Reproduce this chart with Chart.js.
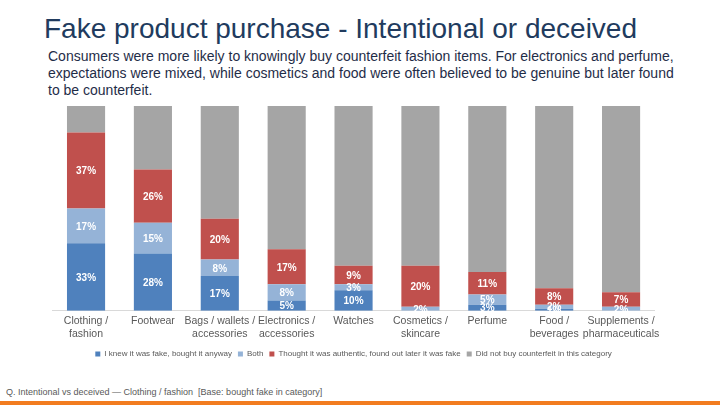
<!DOCTYPE html>
<html>
<head>
<meta charset="utf-8">
<script src="https://cdn.jsdelivr.net/npm/chart.js@4"></script>
<style>
    html, body { margin: 0; padding: 0; background: #fff; }
    body { width: 720px; height: 405px; position: relative; overflow: hidden; font-family: 'Liberation Sans', Arial, sans-serif; }
    .title { position: absolute; left: 44px; top: 15px; font-size: 28px; line-height: 28px; color: #213B5E; white-space: nowrap; }
    .subtitle { position: absolute; left: 48px; top: 48px; font-size: 14px; line-height: 17px; color: #1F2D48; white-space: nowrap; }
    .chart-box { position: absolute; left: 0; top: 100px; width: 720px; height: 275px; }
    .footnote { position: absolute; left: 6px; top: 387px; font-size: 9px; line-height: 10px; color: #595959; white-space: pre; }
    .bottom-bar { position: absolute; left: 0; top: 401px; width: 720px; height: 4px; background: #F27C1F; }
</style>
</head>
<body>
<div class="title">Fake product purchase - Intentional or deceived</div>
<div class="subtitle">Consumers were more likely to knowingly buy counterfeit fashion items. For electronics and perfume,<br>expectations were mixed, while cosmetics and food were often believed to be genuine but later found<br>to be counterfeit.</div>
<div class="chart-box"><canvas id="fakeChart"></canvas></div>
<div class="footnote">Q. Intentional vs deceived — Clothing / fashion  [Base: bought fake in category]</div>
<div class="bottom-bar"></div>

<script>
// 类别
const categories = [
    ['Clothing /', 'fashion'],
    ['Footwear'],
    ['Bags / wallets /', 'accessories'],
    ['Electronics /', 'accessories'],
    ['Watches'],
    ['Cosmetics /', 'skincare'],
    ['Perfume'],
    ['Food /', 'beverages'],
    ['Supplements /', 'pharmaceuticals']
];

// 各系列数值 (%)
const knewFake    = [33, 28, 17, 5, 10, 0, 3, 1, 0];
const both        = [17, 15, 8, 8, 3, 2, 5, 2, 2];
const deceived    = [37, 26, 20, 17, 9, 20, 11, 8, 7];
const didNotBuy   = [13, 31, 55, 70, 78, 78, 81, 89, 91];

const seriesNames = [
    'I knew it was fake, bought it anyway',
    'Both',
    'Thought it was authentic, found out later it was fake',
    'Did not buy counterfeit in this category'
];
const seriesColors = ['#4F81BD', '#95B3D7', '#C0504D', '#A5A5A5'];

// 柱内百分比标签
const barLabels = {
    id: 'barLabels',
    afterDatasetsDraw(chart) {
        const ctx = chart.ctx;
        ctx.save();
        ctx.font = 'bold 10px "Liberation Sans", Arial, sans-serif';
        ctx.fillStyle = '#ffffff';
        ctx.textAlign = 'center';
        ctx.textBaseline = 'middle';
        chart.data.datasets.forEach((ds, i) => {
            if (ds.noLabel) return;
            chart.getDatasetMeta(i).data.forEach((bar, j) => {
                const v = ds.data[j];
                if (!v) return;
                ctx.fillText(v + '%', bar.x, (bar.y + bar.base) / 2 + 1);
            });
        });
        ctx.restore();
    }
};

const datasets = [knewFake, both, deceived, didNotBuy].map((data, i) => ({
    label: seriesNames[i],
    data: data,
    backgroundColor: seriesColors[i],
    borderWidth: 0,
    categoryPercentage: 1,
    barPercentage: 0.57,
    noLabel: i === 3
}));

new Chart(document.getElementById('fakeChart'), {
    type: 'bar',
    data: { labels: categories, datasets: datasets },
    options: {
        responsive: true,
        maintainAspectRatio: false,
        animation: false,
        layout: { padding: { left: 52.6, right: 65.5, top: 6, bottom: 7 } },
        plugins: {
            legend: {
                position: 'bottom',
                labels: {
                    boxWidth: 5,
                    boxHeight: 5,
                    padding: 6,
                    color: '#595959',
                    font: { size: 8, family: '"Liberation Sans", Arial, sans-serif' }
                }
            },
            tooltip: { enabled: false }
        },
        scales: {
            x: {
                stacked: true,
                grid: { display: false, drawTicks: false },
                border: { display: true, color: '#D9D9D9', width: 1 },
                ticks: {
                    color: '#595959',
                    padding: 4,
                    maxRotation: 0,
                    autoSkip: false,
                    font: { size: 10.5, family: '"Liberation Sans", Arial, sans-serif' }
                }
            },
            y: {
                stacked: true,
                display: false,
                min: 0,
                max: 100
            }
        }
    },
    plugins: [barLabels]
});
</script>
</body>
</html>
